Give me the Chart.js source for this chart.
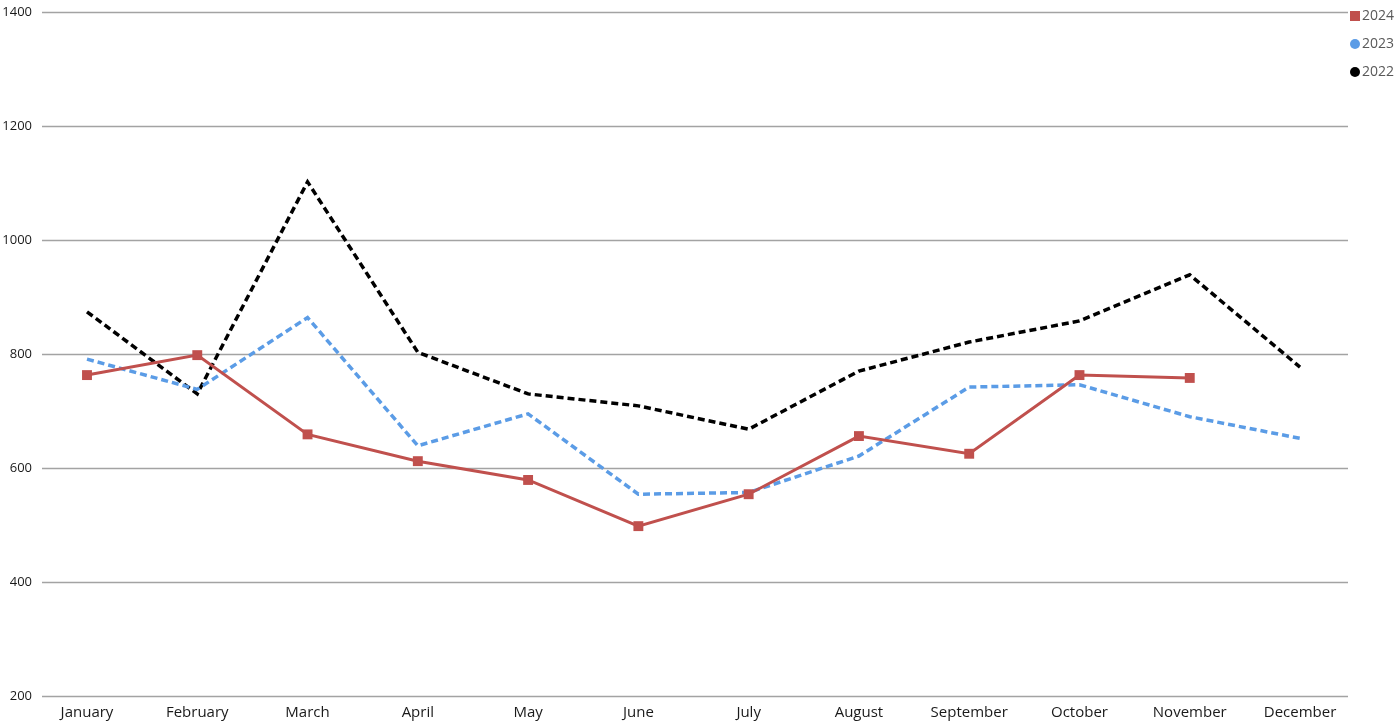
<!DOCTYPE html>
<html>
<head>
<meta charset="utf-8">
<script src="https://cdn.jsdelivr.net/npm/chart.js@4.4.1/dist/chart.umd.min.js"></script>
<style>
  html, body { margin: 0; padding: 0; background: #fff; }
  #wrap { width: 1396px; height: 725px; }
</style>
</head>
<body>
<div id="wrap"><canvas id="c"></canvas></div>
<script>
const months = ["January","February","March","April","May","June","July","August","September","October","November","December"];
const s2024 = [763, 798, 659, 612, 579, 498, 554, 656, 625, 763, 758, null];
const s2023 = [791, 738, 864, 639, 695, 554, 557, 621, 742, 746, 690, 652];
const s2022 = [874, 730, 1102, 803, 730, 709, 668, 770, 821, 858, 939, 777];
const yTicks = [200, 400, 600, 800, 1000, 1200, 1400];

const toPts = arr => arr.map((v, i) => ({ x: i, y: v }));

// legend square swatch
const sq = document.createElement('canvas');
sq.width = 10; sq.height = 10;
const sctx = sq.getContext('2d');
sctx.fillStyle = '#C0504D';
sctx.fillRect(0, 0, 10, 10);

const gridPlugin = {
  id: 'hgrid',
  beforeDatasetsDraw(chart) {
    const { ctx, chartArea, scales } = chart;
    ctx.save();
    ctx.strokeStyle = '#a3a3a3';
    ctx.lineWidth = 1.4;
    yTicks.forEach(v => {
      const y = Math.round(scales.y.getPixelForValue(v)) + 0.5;
      ctx.beginPath();
      ctx.moveTo(chartArea.left, y);
      ctx.lineTo(chartArea.right, y);
      ctx.stroke();
    });
    ctx.restore();
  }
};

// place the legend tight to the top-right corner, overlapping the plot edge
const legendPlace = {
  id: 'legendPlace',
  afterLayout(chart) {
    const lg = chart.legend;
    if (!lg) return;
    const h = lg.bottom - lg.top;
    lg.left = chart.chartArea.right - 7;
    lg.right = lg.left + 55;
    lg.top = -5;
    lg.bottom = lg.top + h;
  }
};

new Chart(document.getElementById('c'), {
  type: 'line',
  data: {
    datasets: [
      {
        label: '2024', data: toPts(s2024),
        borderColor: '#C0504D', backgroundColor: '#C0504D',
        borderWidth: 3, pointStyle: 'rect', pointRadius: 7,
        pointBackgroundColor: '#C0504D', pointBorderWidth: 0,
        tension: 0, spanGaps: false
      },
      {
        label: '2023', data: toPts(s2023),
        borderColor: '#5B9CE6', backgroundColor: '#5B9CE6',
        borderWidth: 3.5, borderDash: [7, 4], pointStyle: 'circle', pointRadius: 0,
        tension: 0
      },
      {
        label: '2022', data: toPts(s2022),
        borderColor: '#000000', backgroundColor: '#000000',
        borderWidth: 3.5, borderDash: [7, 4], pointStyle: 'circle', pointRadius: 0,
        tension: 0
      }
    ]
  },
  options: {
    responsive: true,
    maintainAspectRatio: false,
    animation: false,
    layout: { padding: { top: 12, right: 0, bottom: -5, left: 0 } },
    plugins: {
      tooltip: { enabled: false },
      legend: {
        position: 'right',
        align: 'start',
        maxWidth: 48,
        labels: {
          usePointStyle: true,
          boxHeight: 7.07,
          boxWidth: 0.01,
          padding: 14,
          color: '#595959',
          font: { family: 'Open Sans', size: 14 },
          generateLabels(chart) {
            const items = Chart.defaults.plugins.legend.labels.generateLabels(chart);
            items.forEach(it => { it.lineWidth = 0; it.lineDash = []; });
            items[0].pointStyle = sq;
            return items;
          }
        }
      }
    },
    scales: {
      x: {
        type: 'linear',
        min: -0.408, max: 11.435,
        grid: { display: false, drawTicks: false },
        border: { display: false },
        afterBuildTicks(scale) { scale.ticks = months.map((_, i) => ({ value: i })); },
        ticks: {
          autoSkip: false, maxRotation: 0, padding: 8,
          color: '#1a1a1a',
          font: { family: 'Open Sans', size: 15 },
          callback: v => months[v] ?? ''
        }
      },
      y: {
        min: 200, max: 1400,
        grid: { display: false, drawTicks: false },
        border: { display: false },
        afterBuildTicks(scale) { scale.ticks = yTicks.map(v => ({ value: v })); },
        afterFit(scale) { scale.width = 42; scale.paddingTop = 8; scale.paddingBottom = 0; },
        ticks: {
          padding: 10,
          color: '#1a1a1a',
          font: { family: 'Open Sans', size: 13 },
          callback: v => String(v)
        }
      }
    }
  },
  plugins: [gridPlugin, legendPlace]
});
</script>
</body>
</html>
